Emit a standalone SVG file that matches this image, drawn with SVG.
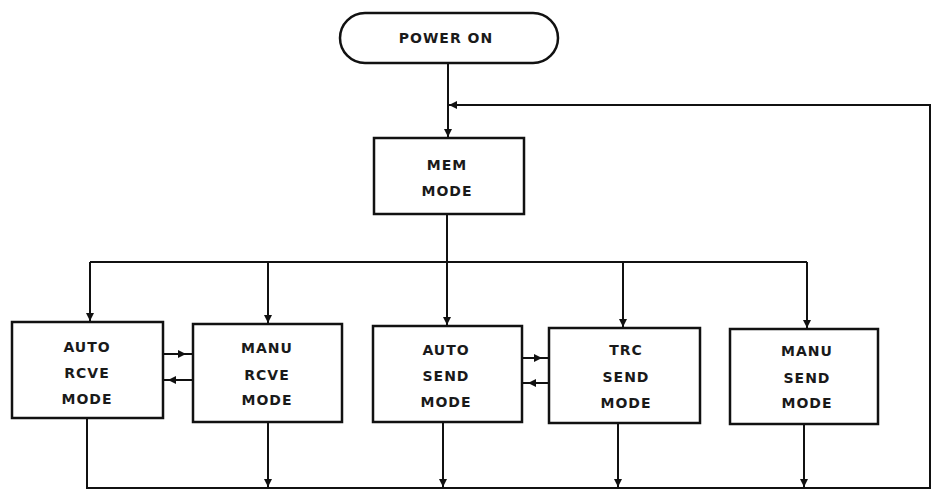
<svg xmlns="http://www.w3.org/2000/svg" width="933" height="493" viewBox="0 0 933 493">
<style>
.box{fill:#fff;stroke:#111;stroke-width:2.5}
.ln{fill:none;stroke:#111;stroke-width:2}
.t{font-family:"DejaVu Sans","Liberation Sans",sans-serif;font-size:14px;font-weight:bold;letter-spacing:1px;fill:#1a1a1a;text-anchor:middle}
</style>
<defs>
<marker id="ah" viewBox="0 0 10 10" refX="10" refY="5" markerWidth="8" markerHeight="8" markerUnits="userSpaceOnUse" orient="auto">
<path d="M0,0 L10,5 L0,10 z" fill="#111"/>
</marker>
</defs>
<rect width="933" height="493" fill="#fff"/>
<g id="connectors">
<path class="ln" d="M448,63 L448,137" marker-end="url(#ah)"/>
<path class="ln" d="M87,418 L87,488 L930,488 L930,105 L449,105" marker-end="url(#ah)"/>
<path class="ln" d="M447,214 L447,325" marker-end="url(#ah)"/>
<path class="ln" d="M90,262 L807,262"/>
<path class="ln" d="M90,262 L90,321" marker-end="url(#ah)"/>
<path class="ln" d="M268,262 L268,323" marker-end="url(#ah)"/>
<path class="ln" d="M623,262 L623,327" marker-end="url(#ah)"/>
<path class="ln" d="M807,262 L807,328" marker-end="url(#ah)"/>
<path class="ln" d="M268,422 L268,487" marker-end="url(#ah)"/>
<path class="ln" d="M443,422 L443,487" marker-end="url(#ah)"/>
<path class="ln" d="M618,423 L618,487" marker-end="url(#ah)"/>
<path class="ln" d="M804,424 L804,487" marker-end="url(#ah)"/>
<path class="ln" d="M163,354 L186,354" marker-end="url(#ah)"/>
<path class="ln" d="M186,354 L193,354"/>
<path class="ln" d="M193,380 L168,380" marker-end="url(#ah)"/>
<path class="ln" d="M168,380 L163,380"/>
<path class="ln" d="M522,358 L542,358" marker-end="url(#ah)"/>
<path class="ln" d="M542,358 L549,358"/>
<path class="ln" d="M549,383 L528,383" marker-end="url(#ah)"/>
<path class="ln" d="M528,383 L522,383"/>
</g>
<g id="power-on">
<rect class="box" x="340" y="13" width="218" height="50" rx="25" ry="25"/>
<text class="t" x="446" y="43">POWER ON</text>
</g>
<g id="mem-mode">
<rect class="box" x="374" y="138" width="150" height="76"/>
<text class="t" x="447" y="170">MEM</text>
<text class="t" x="447" y="196">MODE</text>
</g>
<g id="auto-rcve">
<rect class="box" x="12" y="322" width="151" height="96"/>
<text class="t" x="87" y="352">AUTO</text>
<text class="t" x="87" y="378">RCVE</text>
<text class="t" x="87" y="404">MODE</text>
</g>
<g id="manu-rcve">
<rect class="box" x="193" y="324" width="149" height="98"/>
<text class="t" x="267" y="353">MANU</text>
<text class="t" x="267" y="380">RCVE</text>
<text class="t" x="267" y="405">MODE</text>
</g>
<g id="auto-send">
<rect class="box" x="373" y="326" width="149" height="96"/>
<text class="t" x="446" y="355">AUTO</text>
<text class="t" x="446" y="381">SEND</text>
<text class="t" x="446" y="407">MODE</text>
</g>
<g id="trc-send">
<rect class="box" x="549" y="328" width="151" height="95"/>
<text class="t" x="626" y="355">TRC</text>
<text class="t" x="626" y="382">SEND</text>
<text class="t" x="626" y="408">MODE</text>
</g>
<g id="manu-send">
<rect class="box" x="730" y="329" width="148" height="95"/>
<text class="t" x="807" y="356">MANU</text>
<text class="t" x="807" y="383">SEND</text>
<text class="t" x="807" y="408">MODE</text>
</g>
</svg>
